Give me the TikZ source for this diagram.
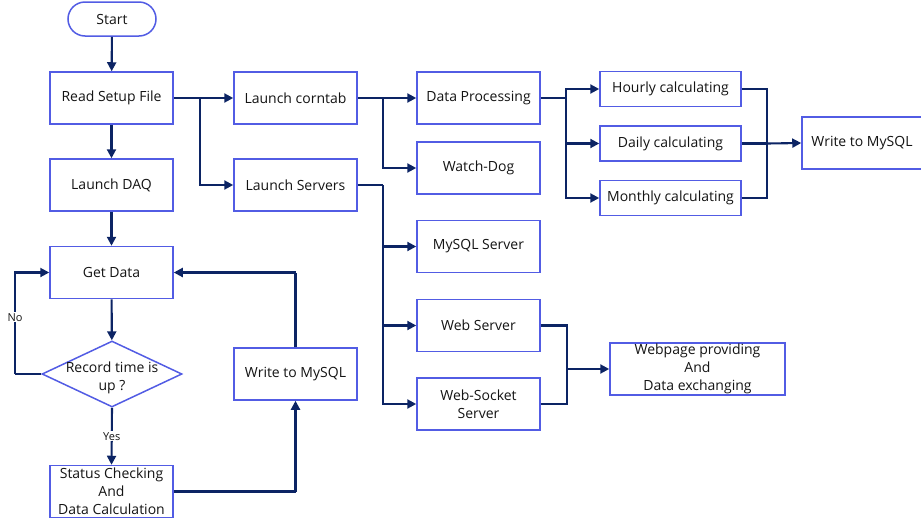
\documentclass[tikz,border=0pt]{standalone}
\usepackage{fontspec}
\setmainfont{Open Sans}
\usetikzlibrary{arrows.meta,shapes.geometric,shapes.misc}
\definecolor{boxc}{RGB}{82,92,228}
\definecolor{linec}{RGB}{12,36,100}
\definecolor{txt}{RGB}{20,20,20}
\begin{document}
\begin{tikzpicture}[x=1pt,y=-1pt,
 box/.style={draw=boxc,line width=1.5pt,fill=white,inner sep=0pt,align=center,text=txt,
   font=\fontsize{14}{18}\selectfont,minimum width=123pt,minimum height=52pt},
 conn/.style={draw=linec,line width=2.1pt},
 arr/.style={conn,-{Triangle[length=9pt,width=9pt]}},
 lbl/.style={fill=white,inner sep=1pt,text=txt,font=\fontsize{11}{12}\selectfont}
]
\useasboundingbox (0,0) rectangle (921,520);
% left column
\node[box,shape=rounded rectangle,minimum width=88pt,minimum height=34pt] (start) at (112,19) {Start};
\node[box] (read) at (111.5,98) {Read Setup File};
\node[box] (daq) at (111.5,185) {Launch DAQ};
\node[box] (get) at (111.5,272.5) {Get Data};
\node[box,shape=diamond,minimum width=140pt,minimum height=66pt,
  label={[text=txt,align=center,font=\fontsize{14}{18}\selectfont,yshift=-4pt]center:Record time is\\up ?}] (dec) at (112,374) {};
\node[box] (stat) at (111.5,491.5) {Status Checking\\And\\Data Calculation};
\node[box] (wleft) at (295.5,374) {Write to MySQL};
% second column
\node[box] (corn) at (295.5,98) {Launch corntab};
\node[box] (serv) at (295.5,185) {Launch Servers};
% third column
\node[box] (proc) at (478.5,98) {Data Processing};
\node[box] (dog) at (478.5,168) {Watch-Dog};
\node[box] (mysqls) at (478.5,246.5) {MySQL Server};
\node[box] (webs) at (478.5,325.5) {Web Server};
\node[box] (wsock) at (478.5,404) {Web-Socket\\Server};
\node[box,minimum width=175pt] (page) at (697.5,369) {Webpage providing\\And\\Data exchanging};
% fourth column
\node[box,minimum width=141pt,minimum height=35pt] (hour) at (670.5,89) {Hourly calculating};
\node[box,minimum width=141pt,minimum height=35pt] (day) at (670.5,143.5) {Daily calculating};
\node[box,minimum width=141pt,minimum height=35pt] (month) at (670.5,198) {Monthly calculating};
\node[box,minimum width=120pt] (wright) at (862,143) {Write to MySQL};
% junctions
\coordinate (j1) at (200,98);
\coordinate (j2) at (383,98);
\coordinate (j3) at (383,185);
\coordinate (j4) at (566,98);
\coordinate (j5) at (767,143.5);
\coordinate (j6) at (567,369);
\coordinate (jno) at (15,374);
\coordinate (jst) at (295.5,491.5);
\coordinate (jwl) at (295.5,272.5);
% connectors
\draw[arr] (start) -- (read);
\draw[arr] (read) -- (daq);
\draw[arr] (daq) -- (get);
\draw[arr] (get) -- (dec);
\draw[arr] (dec.south) -- node[lbl]{Yes} (stat.north);
\draw[conn] (dec.west) -- (jno);
\draw[arr] (jno) |- node[lbl,pos=0.28]{No} (get.west);
\draw[conn] (stat.east) -- (jst);
\draw[arr] (jst) -- (wleft.south);
\draw[conn] (wleft.north) -- (jwl);
\draw[arr] (jwl) -- (get.east);
\draw[arr] (read.east) -- (corn.west);
\draw[arr] (j1) |- (serv.west);
\draw[arr] (corn.east) -- (proc.west);
\draw[arr] (j2) |- (dog.west);
\draw[conn] (serv.east) -- (j3);
\draw[arr] (j3) |- (mysqls.west);
\draw[arr] (j3) |- (webs.west);
\draw[arr] (j3) |- (wsock.west);
\draw[conn] (proc.east) -- (j4);
\draw[arr] (j4) |- (hour.west);
\draw[arr] (j4) |- (day.west);
\draw[arr] (j4) |- (month.west);
\draw[conn] (hour.east) -| (j5);
\draw[conn] (month.east) -| (j5);
\draw[conn] (day.east) -- (j5);
\draw[arr] (j5) -- (wright.west);
\draw[conn] (webs.east) -| (j6);
\draw[conn] (wsock.east) -| (j6);
\draw[arr] (j6) -- (page.west);
\end{tikzpicture}
\end{document}
